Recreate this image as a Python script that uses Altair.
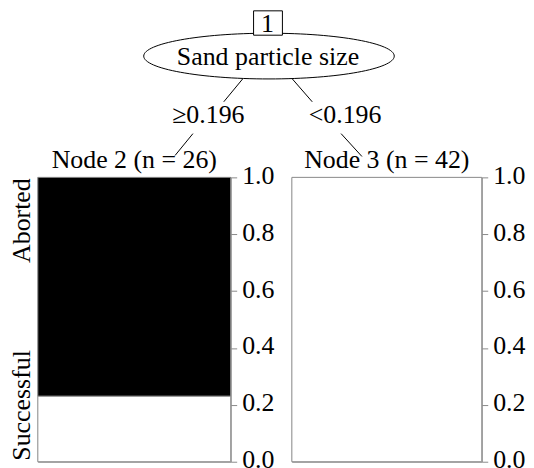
import altair as alt
import pandas as pd

# ---------------- data ----------------
split_variable = "Sand particle size"
split_labels = ["\u22650.196", "<0.196"]
node_ids = [2, 3]
node_n = [26, 42]
classes = ["Successful", "Aborted"]
count_successful = [6, 42]
count_aborted = [20, 0]
y_ticks = [0.0, 0.2, 0.4, 0.6, 0.8, 1.0]

# ---------------- style / layout ----------------
FONT = "Liberation Serif"
FS = 26
GREY = "#8a8a8a"
PANEL_W = [194, 191]
PANEL_H = 286
PANEL_SPACING = 61.5
OX, OY = 37, 8                       # page position of the tree-head origin
TOP_W = PANEL_W[0] + PANEL_SPACING + PANEL_W[1]
TOP_H = 168

# tree head geometry (page pixel positions of decorations)
head = {
    "box": (254, 283, 8.5, 33),
    "ellipse": (269.5, 54, 252, 46),
    "texts": [("1", 268, 30), (split_variable, 268.5, 62.5),
              (split_labels[0], 208.5, 121.7), (split_labels[1], 346, 121.7)],
    "edges": [(243, 77, 224, 100), (293, 77, 313, 100),
              (193, 132, 175, 154), (342, 132, 363, 155)],
}
class_label_pos = {"Aborted": 0.848, "Successful": 0.198}

xs = alt.Scale(domain=[OX, OX + TOP_W], nice=False, zero=False)
ys = alt.Scale(domain=[OY, OY + TOP_H], nice=False, zero=False, reverse=True)

b = head["box"]
box_df = pd.DataFrame({"x": [b[0]], "x2": [b[1]], "y": [b[2]], "y2": [b[3]]})
ex, ey, ew, eh = head["ellipse"]
ell_df = pd.DataFrame({"x": [ex], "y": [ey]})
ry = eh / ew
k = 0.5523 * ry
ellipse_path = (f"M-1,0 C-1,{-k:.4f} -0.5523,{-ry:.4f} 0,{-ry:.4f} "
                f"C0.5523,{-ry:.4f} 1,{-k:.4f} 1,0 "
                f"C1,{k:.4f} 0.5523,{ry:.4f} 0,{ry:.4f} "
                f"C-0.5523,{ry:.4f} -1,{k:.4f} -1,0 Z")
txt_df = pd.DataFrame(head["texts"], columns=["t", "x", "y"])
edge_df = pd.DataFrame(head["edges"], columns=["x", "y", "x2", "y2"])

ellipse = alt.Chart(ell_df).mark_point(
    shape=ellipse_path, size=ew * ew, filled=True, fill="white",
    stroke="black", strokeWidth=1, opacity=1
).encode(x=alt.X("x:Q", scale=xs, axis=None), y=alt.Y("y:Q", scale=ys, axis=None))

box = alt.Chart(box_df).mark_rect(fill="white", stroke="black", strokeWidth=1).encode(
    x=alt.X("x:Q", scale=xs, axis=None), x2="x2:Q",
    y=alt.Y("y:Q", scale=ys, axis=None), y2="y2:Q")

edges = alt.Chart(edge_df).mark_rule(color="black", strokeWidth=1).encode(
    x=alt.X("x:Q", scale=xs, axis=None), x2="x2:Q",
    y=alt.Y("y:Q", scale=ys, axis=None), y2="y2:Q")

texts = alt.Chart(txt_df).mark_text(
    font=FONT, fontSize=FS, color="black", align="center", baseline="alphabetic"
).encode(x=alt.X("x:Q", scale=xs, axis=None), y=alt.Y("y:Q", scale=ys, axis=None), text="t:N")

top = alt.layer(edges, ellipse, box, texts).properties(
    width=TOP_W, height=TOP_H, view=alt.ViewBackground(stroke="transparent"))

# ---------------- terminal node panels ----------------
yaxis = alt.Axis(orient="right", values=y_ticks, format=".1f", title=None,
                 labelFont=FONT, labelFontSize=FS, labelColor="black",
                 labelBaseline="alphabetic", labelOffset=6,
                 tickColor=GREY, tickSize=6, tickWidth=1, labelPadding=5,
                 domain=False, grid=False, labelFlush=False)
yscale = alt.Scale(domain=[0, 1], nice=False, zero=True)


def panel(i):
    n = node_n[i]
    s = count_successful[i] / n
    a = count_aborted[i] / n
    rows = []
    if s > 0:
        rows.append({"cls": "Successful", "y0": 0.0, "y1": s})
    if a > 0:
        rows.append({"cls": "Aborted", "y0": s, "y1": s + a})
    df = pd.DataFrame(rows)
    bars = alt.Chart(df).mark_rect(stroke=GREY, strokeWidth=1).encode(
        y=alt.Y("y0:Q", scale=yscale, axis=yaxis),
        y2="y1:Q",
        fill=alt.Fill("cls:N", scale=alt.Scale(domain=classes, range=["white", "black"]), legend=None),
    )
    layers = [bars]
    if i == 0:
        lab_df = pd.DataFrame({"label": list(class_label_pos.keys()),
                               "y0": list(class_label_pos.values())})
        lab = alt.Chart(lab_df).mark_text(
            angle=270, align="center", baseline="alphabetic", font=FONT, fontSize=FS, color="black"
        ).encode(y=alt.Y("y0:Q", scale=yscale, axis=yaxis), x=alt.value(-7.5), text="label:N")
        layers.append(lab)
    title = alt.TitleParams(f"Node {node_ids[i]} (n = {n})", font=FONT, fontSize=FS,
                            fontWeight="normal", color="black", anchor="middle",
                            frame="group", baseline="alphabetic", offset=4, dy=36)
    return alt.layer(*layers).properties(width=PANEL_W[i], height=PANEL_H, title=title)


bottom = alt.hconcat(panel(0), panel(1), spacing=PANEL_SPACING, bounds="flush")

chart = alt.vconcat(top, bottom, spacing=0, bounds="flush").properties(
    padding={"left": 0, "top": 0, "right": 0, "bottom": 0}, background="white"
).configure_view(stroke=GREY, strokeWidth=1)

chart.save("out.html", embed_options={"renderer": "svg", "actions": False})
